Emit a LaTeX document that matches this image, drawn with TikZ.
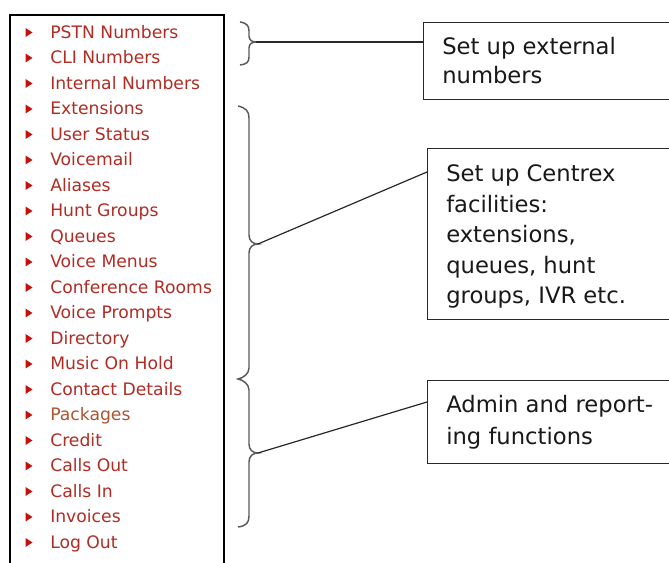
\documentclass[tikz,border=0pt]{standalone}
\usepackage{fontspec}
\setmainfont{DejaVu Sans}
\begin{document}
\begin{tikzpicture}[x=0.75pt,y=-0.75pt]
\definecolor{menured}{RGB}{176,44,36}
\definecolor{visited}{RGB}{172,86,48}
\definecolor{bulletred}{RGB}{200,16,10}
\definecolor{linegray}{RGB}{40,40,40}
\definecolor{bracegray}{RGB}{90,90,90}
\tikzset{
  menuitem/.style={anchor=base west, inner sep=0pt, text=menured, font=\fontsize{12.9}{15}\selectfont},
  bulletmark/.style={fill=bulletred, draw=none},
  boxst/.style={draw=linegray, line width=1pt, anchor=north west, inner sep=0pt, fill=white},
  boxtext/.style={anchor=base west, inner sep=0pt, text=black!90, font=\fontsize{17}{22}\selectfont},
  bracest/.style={draw=bracegray, line width=1.1pt},
  conn/.style={draw=linegray, line width=0.9pt}
}
\useasboundingbox (0,0) rectangle (669,563);
\fill[white] (0,0) rectangle (669,563);
% menu panel
\draw[line width=1.6pt, black] (10,600) -- (10,15) -- (224,15) -- (224,600);
% menu items
\foreach \txt [count=\i from 0] in {PSTN Numbers, CLI Numbers, Internal Numbers, Extensions, User Status, Voicemail, Aliases, Hunt Groups, Queues, Voice Menus, Conference Rooms, Voice Prompts, Directory, Music On Hold, Contact Details, Packages, Credit, Calls Out, Calls In, Invoices, Log Out}{
  \pgfmathsetmacro{\yb}{38.5+25.5*\i}
  \pgfmathsetmacro{\yc}{\yb-6}
  \fill[bulletmark] (25.5,\yc-4.5) -- (32.5,\yc) -- (25.5,\yc+4.5) -- cycle;
  \ifnum\i=15
    \node[menuitem, text=visited] (item\i) at (50,\yb) {\txt};
  \else
    \node[menuitem] (item\i) at (50,\yb) {\txt};
  \fi
}
% boxes
\node[boxst, minimum width=225pt, minimum height=57.75pt] (box1) at (423,22) {};
\node[boxst, minimum width=225pt, minimum height=128.25pt] (box2) at (427,148) {};
\node[boxst, minimum width=225pt, minimum height=62.25pt] (box3) at (427,380) {};
% box texts
\node[boxtext] (t1a) at (442,55) {Set up external};
\node[boxtext] (t1b) at (442,84) {numbers};
\node[boxtext] (t2a) at (446,182) {Set up Centrex};
\node[boxtext] (t2b) at (446,212.5) {facilities:};
\node[boxtext] (t2c) at (446,243) {extensions,};
\node[boxtext] (t2d) at (446,273.5) {queues, hunt};
\node[boxtext] (t2e) at (446,304) {groups, IVR etc.};
\node[boxtext] (t3a) at (446,413) {Admin and report-};
\node[boxtext] (t3b) at (446,445) {ing functions};
% braces
\draw[bracest] (240,22) .. controls (247,23) and (249,26) .. (249,31) -- (249,36)
  .. controls (249,40) and (252,42) .. (256,42)
  .. controls (252,42) and (249,44) .. (249,48) -- (249,57)
  .. controls (249,62) and (247,64) .. (240,65);
\draw[bracest] (238,106) .. controls (246,108) and (249,111) .. (249,118) -- (249,235)
  .. controls (249,241) and (253,244) .. (258,244)
  .. controls (253,244) and (249,247) .. (249,253) -- (249,368)
  .. controls (249,374) and (243,378) .. (238,379)
  .. controls (243,380) and (249,384) .. (249,390) -- (249,444)
  .. controls (249,450) and (253,453) .. (258,453)
  .. controls (253,453) and (249,456) .. (249,462) -- (249,516)
  .. controls (249,523) and (246,526) .. (238,527);
% connector anchors
\coordinate (tipA) at (256,42);
\coordinate (tipB) at (258,244);
\coordinate (tipC) at (258,453);
\coordinate (inA) at (423,42);
\coordinate (inB) at (427,172);
\coordinate (inC) at (427,402);
\draw[conn] (tipA) -- (inA);
\draw[conn] (tipB) -- (inB);
\draw[conn] (tipC) -- (inC);
\end{tikzpicture}
\end{document}
